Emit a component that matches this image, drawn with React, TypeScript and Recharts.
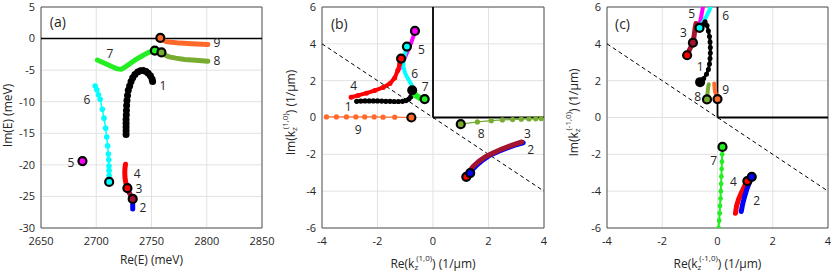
import React from 'react';
import {
  ComposedChart,
  Scatter,
  XAxis,
  YAxis,
  CartesianGrid,
  ReferenceLine,
  ReferenceArea
} from 'recharts';

type P = [number, number];
type L = [number, number, string];

// ---- panel (a): complex energies ----
const a1: P[] = [[2727,-15.2],[2727,-14.6],[2727,-14.0],[2727,-13.4],[2727,-12.8],[2727.2,-12.1],[2727.3,-11.4],[2727.5,-10.6],[2727.8,-9.8],[2728.3,-9.0],[2729,-8.2],[2730.2,-7.5],[2731.5,-6.8],[2733,-6.2],[2735,-5.7],[2737.5,-5.3],[2740,-5.1],[2742.5,-5.05],[2745,-5.2],[2747,-5.5],[2749,-5.9],[2750.5,-6.4],[2751,-6.8]];
const a2: P[] = [[2733,-25.4],[2733,-26],[2733,-26.5],[2733,-27]];
const a3: P[] = [[2728.2,-23.7],[2729.5,-24.3],[2731,-24.8],[2732.6,-25.3]];
const a4: P[] = [[2726.5,-19.9],[2726,-20.5],[2725.8,-21.2],[2726,-22],[2726.6,-22.7],[2727.4,-23.3],[2728.2,-23.7]];
const a5: P[] = [[2687.5,-19.4],[2688,-19.7],[2688.6,-19.9]];
const a6: P[] = [[2699,-7.5],[2700.5,-8.1],[2702,-8.9],[2703.5,-9.6],[2705.5,-11.2],[2707,-12.6],[2708.5,-14.2],[2709.5,-15.6],[2710.3,-17],[2711,-18.3],[2711.3,-19.2],[2711.5,-20.2],[2711.6,-20.9],[2711.7,-21.7],[2711.7,-22.7]];
const a7: P[] = [[2701,-3.4],[2705,-3.7],[2710,-4.1],[2715,-4.5],[2719,-4.8],[2723,-4.85],[2727,-4.4],[2731,-3.9],[2736,-3.3],[2741,-2.8],[2746,-2.3],[2750,-2.0],[2753,-1.9]];
const a8: P[] = [[2759,-2.2],[2762,-2.6],[2766,-2.9],[2772,-3.1],[2780,-3.3],[2790,-3.45],[2801,-3.6]];
const a9: P[] = [[2758,0.1],[2760,-0.2],[2763,-0.45],[2768,-0.6],[2776,-0.72],[2786,-0.83],[2801,-0.95]];
const ringsA: P[] = [[2758,0.1],[2753,-1.9],[2759,-2.2],[2687.5,-19.4],[2711.7,-22.7],[2728.2,-23.7],[2733,-25.4]];
const labelsA: L[] = [[2809.3,-0.7,'9'],[2809.3,-3.55,'8'],[2712.4,-2.3,'7'],[2760.4,-7.5,'1'],[2691.6,-9.6,'6'],[2677,-19.7,'5'],[2737,-21.3,'4'],[2738.7,-23.8,'3'],[2742.3,-26.7,'2']];
const xTicksA = [2650, 2700, 2750, 2800, 2850];
const yTicksA = [-30, -25, -20, -15, -10, -5, 0, 5];

// ---- panel (b): kz for (1,0) ----
const b1: P[] = [[-2.75,0.88],[-2.6,0.89],[-2.45,0.9],[-2.3,0.9],[-2.15,0.9],[-2.0,0.9],[-1.85,0.89],[-1.7,0.88],[-1.55,0.88],[-1.4,0.87],[-1.25,0.87],[-1.1,0.88],[-0.97,0.92],[-0.87,1.0],[-0.8,1.12],[-0.76,1.28],[-0.75,1.45]];
const b2: P[] = [[1.34,-3.02],[1.45,-2.78],[1.6,-2.55],[1.8,-2.3],[2.05,-2.05],[2.35,-1.84],[2.65,-1.66],[2.95,-1.5],[3.25,-1.37]];
const b3: P[] = [[1.2,-3.22],[1.3,-2.95],[1.45,-2.65],[1.65,-2.38],[1.9,-2.12],[2.2,-1.9],[2.5,-1.7],[2.85,-1.5],[3.2,-1.33]];
const b4: P[] = [[-2.95,1.1],[-2.7,1.2],[-2.4,1.32],[-2.1,1.46],[-1.8,1.63],[-1.55,1.85],[-1.38,2.15],[-1.27,2.55],[-1.2,2.9],[-1.15,3.2]];
const b5: P[] = [[-0.65,4.7],[-0.72,4.35],[-0.8,4.0],[-0.9,3.65],[-1.0,3.3],[-1.1,2.95],[-1.2,2.65]];
const b6: P[] = [[-0.94,3.85],[-1.0,3.5],[-1.06,3.1],[-1.07,2.75],[-1.0,2.4],[-0.9,2.1],[-0.8,1.85],[-0.72,1.6]];
const b7: P[] = [[-0.72,1.4],[-0.62,1.2],[-0.5,1.08],[-0.4,1.02],[-0.3,1.0]];
const b8: P[] = [[1.0,-0.36],[1.6,-0.24],[2.1,-0.17],[2.5,-0.13],[2.87,-0.11],[3.18,-0.09],[3.46,-0.08],[3.7,-0.07],[3.9,-0.06]];
const b9: P[] = [[-3.84,0.03],[-3.48,0.03],[-3.12,0.03],[-2.78,0.03],[-2.46,0.03],[-2.12,0.03],[-1.8,0.02],[-1.38,0.02],[-0.78,0.0]];
const ringsB: P[] = [[-0.65,4.7],[-0.94,3.85],[-1.15,3.2],[-0.3,1.0],[-0.78,0.0],[1.0,-0.36],[1.2,-3.22],[1.34,-3.02]];
const dotsB: P[] = [[-0.75,1.48]];
const labelsB: L[] = [[-0.42,3.7,'5'],[-0.66,2.39,'6'],[-0.28,1.66,'7'],[-2.86,1.72,'4'],[-3.06,0.58,'1'],[-2.7,-0.63,'9'],[1.74,-0.85,'8'],[3.4,-0.85,'3'],[3.52,-1.75,'2']];

// ---- panel (c): kz for (-1,0) ----
const c1: P[] = [[-0.52,5.05],[-0.45,5.2],[-0.38,5.0],[-0.33,4.7],[-0.29,4.4],[-0.27,4.1],[-0.26,3.8],[-0.26,3.5],[-0.27,3.2],[-0.29,2.9],[-0.33,2.6],[-0.4,2.35],[-0.5,2.12],[-0.63,1.92]];
const c2: P[] = [[1.24,-3.22],[1.15,-3.55],[1.06,-3.9],[0.98,-4.3],[0.91,-4.7],[0.86,-5.1]];
const c3: P[] = [[-1.1,3.38],[-1.0,3.72],[-0.89,4.06],[-0.85,4.4],[-0.82,4.75],[-0.78,5.1]];
const c4: P[] = [[1.08,-3.45],[0.97,-3.75],[0.86,-4.1],[0.76,-4.45],[0.69,-4.8],[0.65,-5.2]];
const c5: P[] = [[-0.66,5.0],[-0.6,5.4],[-0.55,5.8],[-0.5,6.2]];
const c6: P[] = [[-0.65,4.87],[-0.52,5.2],[-0.4,5.5],[-0.3,5.8],[-0.2,6.2]];
const c7: P[] = [[0.18,-1.6],[0.17,-2.0],[0.16,-2.4],[0.15,-2.8],[0.14,-3.2],[0.13,-3.6],[0.12,-4.0],[0.11,-4.4],[0.09,-4.8],[0.08,-5.2],[0.06,-5.6],[0.04,-6.0]];
const c8: P[] = [[-0.32,1.8],[-0.35,1.5],[-0.37,1.2],[-0.38,0.98]];
const c9: P[] = [[-0.12,1.85],[-0.1,1.5],[-0.05,1.2],[0,1.0]];
const ringsC: P[] = [[-0.65,4.87],[-1.1,3.38],[-0.89,4.06],[-0.38,0.98],[0,1.0],[0.18,-1.6],[1.08,-3.45],[1.24,-3.22]];
const dotsC: P[] = [[-0.63,1.92]];
const labelsC: L[] = [[-0.93,5.62,'5'],[0.3,5.56,'6'],[-1.23,4.6,'3'],[-0.63,2.79,'1'],[-0.72,1.12,'8'],[0.3,1.52,'9'],[-0.14,-2.32,'7'],[0.58,-3.5,'4'],[1.42,-4.49,'2']];

const kTicks = [-4, -2, 0, 2, 4];
const imTicks = [-6, -4, -2, 0, 2, 4, 6];

// MATLAB-ish colours
const BLACK = '#000000';
const BLUE = '#0000FF';
const DRED = '#A2142F';
const RED = '#FF0000';
const MAG = '#FF00FF';
const CYAN = '#00FFFF';
const GREEN = '#22EE22';
const OLIVE = '#77AC30';
const ORANGE = '#FF6A2B';
const TXT = '#262626';
const FONT = '"Open Sans", sans-serif';

const xy = (p: P[]) => p.map(([x, y]) => ({ x, y }));

interface Series { pts: P[]; color: string; w: number; r: number }

const seriesA: Series[] = [
  { pts: a9, color: ORANGE, w: 5, r: 0 },
  { pts: a8, color: OLIVE, w: 5, r: 0 },
  { pts: a7, color: GREEN, w: 5, r: 0 },
  { pts: a1, color: BLACK, w: 4, r: 3.5 },
  { pts: a6, color: CYAN, w: 1.5, r: 2.8 },
  { pts: a5, color: MAG, w: 4, r: 0 },
  { pts: a4, color: RED, w: 5, r: 0 },
  { pts: a2, color: BLUE, w: 5, r: 0 },
  { pts: a3, color: DRED, w: 5, r: 0 },
];
const ringColorsA = [ORANGE, GREEN, OLIVE, MAG, CYAN, RED, DRED];

const seriesB: Series[] = [
  { pts: b9, color: ORANGE, w: 1.2, r: 2.6 },
  { pts: b8, color: OLIVE, w: 1.2, r: 2.6 },
  { pts: b2, color: BLUE, w: 5, r: 0 },
  { pts: b3, color: DRED, w: 5, r: 0 },
  { pts: b5, color: MAG, w: 4, r: 0 },
  { pts: b6, color: CYAN, w: 4, r: 0 },
  { pts: b4, color: RED, w: 4, r: 2.5 },
  { pts: b1, color: BLACK, w: 3, r: 2.6 },
  { pts: b7, color: GREEN, w: 6, r: 0 },
];
const ringColorsB = [MAG, CYAN, RED, GREEN, ORANGE, OLIVE, RED, BLUE];

const seriesC: Series[] = [
  { pts: c7, color: GREEN, w: 2, r: 2.4 },
  { pts: c4, color: RED, w: 5, r: 0 },
  { pts: c2, color: BLUE, w: 5, r: 0 },
  { pts: c8, color: OLIVE, w: 4, r: 0 },
  { pts: c9, color: ORANGE, w: 4, r: 0 },
  { pts: c5, color: MAG, w: 4, r: 0 },
  { pts: c6, color: CYAN, w: 4, r: 0 },
  { pts: c3, color: DRED, w: 5, r: 0 },
  { pts: c1, color: BLACK, w: 3, r: 2.5 },
];
const ringColorsC = [CYAN, RED, DRED, OLIVE, ORANGE, GREEN, RED, BLUE];

const XTitle = ({ viewBox, off, children }: any) => {
  const { x, y, width } = viewBox;
  return (
    <text x={x + width / 2} y={y + off} textAnchor="middle" dominantBaseline="central"
      fontSize={12} fill={TXT} fontFamily={FONT}>
      {children}
    </text>
  );
};

const YTitle = ({ viewBox, pos, shift, children }: any) => {
  const { x, y, height } = viewBox;
  const cx = x + pos;
  const cy = y + height / 2 + shift;
  return (
    <text x={cx} y={cy} transform={`rotate(-90 ${cx} ${cy})`} textAnchor="middle"
      dominantBaseline="central" fontSize={12} fill={TXT} fontFamily={FONT}>
      {children}
    </text>
  );
};

const kz = (pre: string, idx: string) => [
  <tspan key="a">{pre}(k</tspan>,
  <tspan key="b" fontSize={8} dy={3}>z</tspan>,
  <tspan key="c" fontSize={8} dx={-2} dy={-9}>{idx}</tspan>,
  <tspan key="d" dy={6}>) (1/μm)</tspan>,
];

interface PanelProps {
  left: number; width: number; yW: number; right: number;
  xDomain: number[]; xTicks: number[]; yDomain: number[]; yTicks: number[];
  series: Series[]; rings: P[]; ringColors: string[]; dots?: P[];
  labels: L[]; tag: string; tagAt: P;
  xTitle: React.ReactNode; xOff: number;
  yTitle: React.ReactNode; yPos: number; yShift: number;
  box?: boolean; zeroLine?: boolean;
}

const Panel = (p: PanelProps) => (
  <div style={{ position: 'absolute', left: p.left, top: 0 }}>
    <ComposedChart width={p.width} height={275}
      margin={{ top: 7, right: p.right, bottom: 0, left: 0 }}
      style={{ fontFamily: FONT }}>
      <CartesianGrid stroke="#e2e2e2" />
      <XAxis type="number" dataKey="x" domain={p.xDomain} ticks={p.xTicks} interval={0}
        allowDataOverflow height={47} axisLine={false} tickLine={false} tickSize={4} tickMargin={5}
        tick={{ fontSize: 11, fill: TXT, fontFamily: FONT }}
        label={<XTitle off={p.xOff}>{p.xTitle}</XTitle>} />
      <YAxis type="number" dataKey="y" domain={p.yDomain} ticks={p.yTicks} interval={0}
        allowDataOverflow width={p.yW} axisLine={false} tickLine={false} tickSize={4} tickMargin={2}
        tick={{ fontSize: 11, fill: TXT, fontFamily: FONT }}
        label={<YTitle pos={p.yPos} shift={p.yShift}>{p.yTitle}</YTitle>} />
      <ReferenceArea x1={p.xDomain[0]} x2={p.xDomain[1]} y1={p.yDomain[0]} y2={p.yDomain[1]}
        fill="none" fillOpacity={0} stroke="#555555" strokeWidth={1} ifOverflow="visible" />
      {p.zeroLine && <ReferenceLine y={0} stroke={BLACK} strokeWidth={1.6} />}
      {p.box && <ReferenceLine segment={[{ x: 0, y: 0 }, { x: 0, y: 6 }]} stroke={BLACK} strokeWidth={1.8} />}
      {p.box && <ReferenceLine segment={[{ x: 0, y: 0 }, { x: 4, y: 0 }]} stroke={BLACK} strokeWidth={1.8} />}
      {p.box && <ReferenceLine segment={[{ x: -4, y: 4 }, { x: 4, y: -4 }]} stroke={BLACK} strokeWidth={1} strokeDasharray="4 3" />}
      {p.series.map((s, i) => (
        <Scatter key={`s${i}`} data={xy(s.pts)} fill={s.color} isAnimationActive={false}
          line={{ stroke: s.color, strokeWidth: s.w, strokeLinecap: 'round', strokeLinejoin: 'round' }}
          shape={(d: any) => s.r > 0
            ? <circle cx={d.cx} cy={d.cy} r={s.r} fill={s.color} />
            : <g />} />
      ))}
      {p.dots && (
        <Scatter data={xy(p.dots)} fill={BLACK} isAnimationActive={false}
          shape={(d: any) => <circle cx={d.cx} cy={d.cy} r={5} fill={BLACK} />} />
      )}
      <Scatter data={p.rings.map(([x, y], i) => ({ x, y, c: p.ringColors[i] }))} fill={BLACK}
        isAnimationActive={false}
        shape={(d: any) => <circle cx={d.cx} cy={d.cy} r={4} fill={d.payload.c} stroke={BLACK} strokeWidth={2.2} />} />
      <Scatter data={p.labels.map(([x, y, t]) => ({ x, y, t }))} fill={TXT} isAnimationActive={false}
        shape={(d: any) => (
          <text x={d.cx} y={d.cy} textAnchor="middle" dominantBaseline="central"
            fontSize={12} fill={TXT} fontFamily={FONT}>{d.payload.t}</text>
        )} />
      <Scatter data={[{ x: p.tagAt[0], y: p.tagAt[1], t: p.tag }]} fill={TXT} isAnimationActive={false}
        shape={(d: any) => (
          <text x={d.cx} y={d.cy} textAnchor="start" dominantBaseline="central"
            fontSize={14} fill={TXT} fontFamily={FONT}>{d.payload.t}</text>
        )} />
    </ComposedChart>
  </div>
);

export default function App() {
  return (
    <div style={{ position: 'absolute', left: 0, top: 0, width: 831, height: 275, background: '#fff' }}>
      <Panel left={0} width={280} yW={41} right={18}
        xDomain={[2650, 2850]} xTicks={xTicksA} yDomain={[-30, 5]} yTicks={yTicksA}
        series={seriesA} rings={ringsA} ringColors={ringColorsA}
        labels={labelsA} tag="(a)" tagAt={[2658, 2.7]}
        xTitle="Re(E) (meV)" xOff={31}
        yTitle="Im(E) (meV)" yPos={7} yShift={-2} zeroLine />
      <Panel left={280} width={280} yW={42} right={16}
        xDomain={[-4, 4]} xTicks={kTicks} yDomain={[-6, 6]} yTicks={imTicks}
        series={seriesB} rings={ringsB} ringColors={ringColorsB} dots={dotsB}
        labels={labelsB} tag="(b)" tagAt={[-3.68, 5.1]}
        xTitle={kz('Re', '(1,0)')} xOff={35}
        yTitle={kz('Im', '(1,0)')} yPos={10} yShift={-5} box />
      <Panel left={555} width={276} yW={52} right={3}
        xDomain={[-4, 4]} xTicks={kTicks} yDomain={[-6, 6]} yTicks={imTicks}
        series={seriesC} rings={ringsC} ringColors={ringColorsC} dots={dotsC}
        labels={labelsC} tag="(c)" tagAt={[-3.71, 5.1]}
        xTitle={kz('Re', '(-1,0)')} xOff={35}
        yTitle={kz('Im', '(-1,0)')} yPos={18} yShift={-5} box />
    </div>
  );
}
